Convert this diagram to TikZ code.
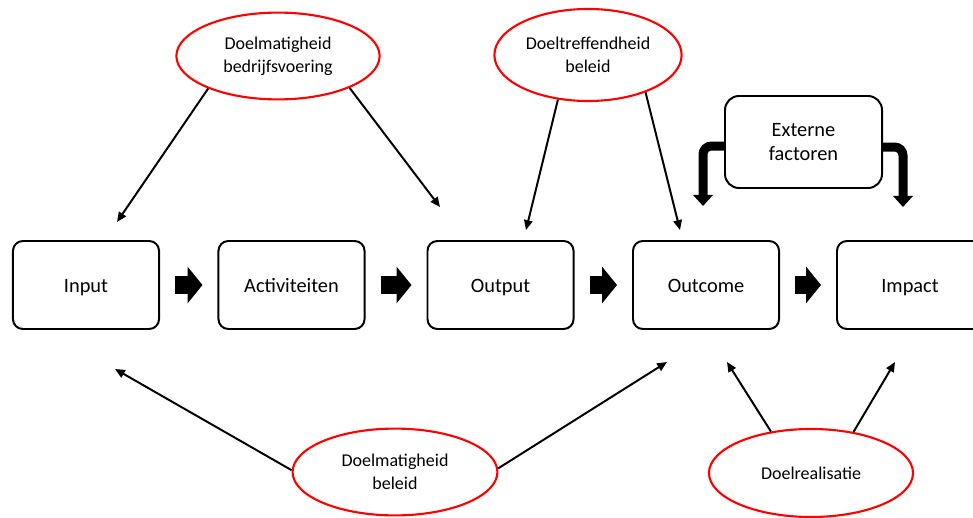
\documentclass[tikz,border=0pt]{standalone}
\usepackage{fontspec}
\setmainfont{Carlito}
\usetikzlibrary{shapes,arrows.meta,positioning,calc}

\begin{document}
\begin{tikzpicture}[x=0.025cm, y=-0.025cm,
  stage/.style={draw, line width=1.4pt, rounded corners=7pt, minimum width=3.65cm, minimum height=2.2cm, font=\fontsize{14.5}{17}\selectfont},
  phase/.style={stage, text height=13pt, text depth=3pt},
  aspect/.style={draw=red, line width=1.5pt, ellipse, align=center, inner sep=0pt, font=\fontsize{12.8}{16.5}\selectfont},
  flow/.style={line width=13pt, -{Triangle[length=10.6pt, width=25.5pt]}, shorten <=0.375cm, shorten >=0.375cm},
  link/.style={line width=1.4pt, -{Triangle[length=7pt, width=6pt]}},
  push/.style={line width=6.4pt, rounded corners=6pt, -{Triangle[length=8pt, width=14pt]}}]

\useasboundingbox (0,0) rectangle (973,518);
\clip (0,0) rectangle (973,518);

% Chain of stages
\node[phase] (input) at (86,285) {Input};
\node[phase] (activ) at (291.5,285) {Activiteiten};
\node[phase] (output) at (500.5,285) {Output};
\node[phase] (outcome) at (706,285) {Outcome};
\node[phase] (impact) at (910,285) {Impact};

% Block arrows
\draw[flow] (input) -- (activ);
\draw[flow] (activ) -- (output);
\draw[flow] (output) -- (outcome);
\draw[flow] (outcome) -- (impact);

% External factors
\node[stage, rounded corners=10pt, minimum width=3.925cm, minimum height=2.3cm, align=center] (ext) at (803.5,142) {Externe\\factoren};
\coordinate (extL) at (703,206);
\coordinate (extR) at (903,207);
\draw[push] ([yshift=-0.1cm]ext.west) -| (extL);
\draw[push] ([yshift=-0.125cm]ext.east) -| (extR);

% Ellipses
\node[aspect, minimum width=5.08cm, minimum height=2.17cm] (bedrijf) at (278,56) {Doelmatigheid\\bedrijfsvoering};
\node[aspect, minimum width=4.68cm, minimum height=2.3cm] (treffend) at (588,55) {Doeltreffendheid\\beleid};
\node[aspect, minimum width=5.12cm, minimum height=2.17cm] (beleid) at (395,472) {Doelmatigheid\\beleid};
\node[aspect, minimum width=5.1cm, minimum height=2.2cm] (real) at (811,473) {Doelrealisatie};

% Arrow ends
\coordinate (t1) at (117,222);
\coordinate (t2) at (440,207);
\coordinate (t3) at (526,230);
\coordinate (t4) at (680,230);
\coordinate (t5) at (115,369);
\coordinate (t6) at (667,362);
\coordinate (t7) at (727,362);
\coordinate (t8) at (895,362);

% Thin arrows
\draw[link] (bedrijf.205) -- (t1);
\draw[link] (bedrijf.336) -- (t2);
\draw[link] (treffend.236) -- (t3);
\draw[link] (treffend.327) -- (t4);
\draw[link] (beleid.179) -- (t5);
\draw[link] (beleid.2) -- (t6);
\draw[link] (real.134) -- (t7);
\draw[link] (real.44) -- (t8);

\end{tikzpicture}
\end{document}
